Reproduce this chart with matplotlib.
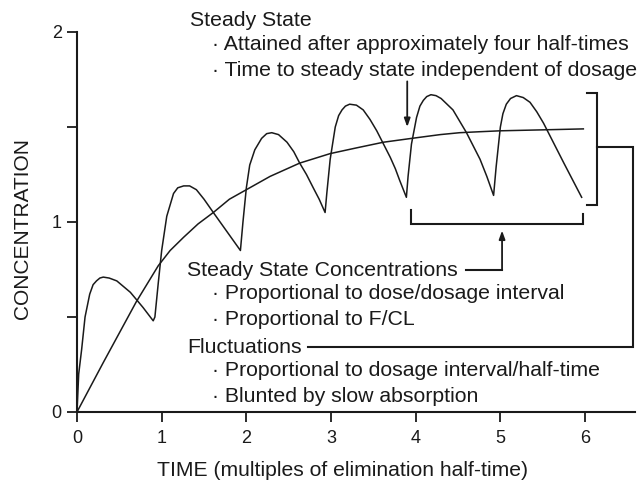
import matplotlib
matplotlib.use("Agg")
import matplotlib.pyplot as plt

plt.rcParams['font.family'] = ['Liberation Sans', 'DejaVu Sans']

# oscillating concentration with repeated dosing
dose_t = [0.00, 0.02, 0.055, 0.095, 0.15, 0.19, 0.23, 0.27, 0.31, 0.38, 0.47,
          0.63, 0.78, 0.90,
          0.92, 0.96, 1.00, 1.06, 1.14, 1.19, 1.26, 1.33, 1.41, 1.50, 1.61,
          1.77, 1.93,
          1.96, 2.00, 2.04, 2.10, 2.18, 2.24, 2.30, 2.38, 2.48, 2.56, 2.63,
          2.71, 2.79, 2.86, 2.93,
          2.95, 2.99, 3.05, 3.09, 3.13, 3.17, 3.22, 3.30, 3.38, 3.46, 3.54,
          3.62, 3.70, 3.76, 3.81, 3.85, 3.89,
          3.91, 3.95, 4.01, 4.05, 4.09, 4.13, 4.18, 4.24, 4.30, 4.37, 4.44,
          4.52, 4.60, 4.68, 4.76, 4.84, 4.92,
          4.95, 5.00, 5.03, 5.07, 5.12, 5.19, 5.27, 5.35, 5.43, 5.51, 5.59,
          5.67, 5.75, 5.82, 5.89, 5.96]
dose_c = [0.00, 0.20, 0.33, 0.50, 0.62, 0.67, 0.69, 0.705, 0.71, 0.705, 0.69,
          0.63, 0.55, 0.48,
          0.50, 0.68, 0.85, 1.03, 1.15, 1.18, 1.19, 1.19, 1.17, 1.12, 1.05,
          0.95, 0.85,
          1.00, 1.18, 1.30, 1.38, 1.44, 1.465, 1.47, 1.46, 1.42, 1.37, 1.31,
          1.25, 1.18, 1.12, 1.05,
          1.15, 1.33, 1.50, 1.56, 1.59, 1.61, 1.62, 1.615, 1.59, 1.54, 1.48,
          1.41, 1.34, 1.28, 1.22, 1.175, 1.13,
          1.24, 1.41, 1.55, 1.61, 1.64, 1.66, 1.67, 1.665, 1.65, 1.62, 1.59,
          1.53, 1.47, 1.40, 1.33, 1.24, 1.14,
          1.29, 1.50, 1.57, 1.62, 1.65, 1.665, 1.655, 1.63, 1.58, 1.52, 1.45,
          1.38, 1.31, 1.25, 1.19, 1.13]

# smooth (continuous infusion) curve
inf_t = [0.00, 0.31, 0.70, 0.96, 1.10, 1.26, 1.43, 1.61, 1.80, 2.00, 2.28,
         2.63, 2.99, 3.30, 3.62, 3.95, 4.29, 4.52, 4.75, 5.00, 5.50, 5.98]
inf_c = [0.00, 0.26, 0.58, 0.77, 0.85, 0.92, 0.99, 1.05, 1.12, 1.17, 1.24,
         1.31, 1.36, 1.39, 1.42, 1.44, 1.46, 1.47, 1.475, 1.48, 1.485, 1.49]

x_ticks = [0, 1, 2, 3, 4, 5, 6]
y_ticks = [0, 0.5, 1, 1.5, 2]
y_tick_labels = ['0', '', '1', '', '2']

fig = plt.figure(figsize=(6.41, 4.84), dpi=100)
ax = fig.add_axes([77 / 641, 72 / 484, 558 / 641, 380 / 484])

ink = '#1a1a1a'
ax.plot(inf_t, inf_c, color=ink, lw=1.1, solid_joinstyle='round')
ax.plot(dose_t, dose_c, color=ink, lw=1.1, solid_joinstyle='round')

ax.set_xlim(0, 6.59)
ax.set_ylim(0, 2)
for s in ['top', 'right']:
    ax.spines[s].set_visible(False)
for s in ['left', 'bottom']:
    ax.spines[s].set_linewidth(1.5)
    ax.spines[s].set_color(ink)
ax.set_xticks(x_ticks)
ax.set_yticks(y_ticks)
ax.set_yticklabels(y_tick_labels)
ax.tick_params(direction='out', length=7, width=1.3, color=ink,
               labelsize=13, labelcolor=ink)
ax.tick_params(axis='x', pad=6)
ax.tick_params(axis='y', pad=4)

ax.set_xlabel('TIME (multiples of elimination half-time)', fontsize=15.2, color=ink)
ax.xaxis.set_label_coords(0.475, -0.153)
ax.xaxis.label.set_va('center')
ax.set_ylabel('CONCENTRATION', fontsize=15, color=ink)
ax.yaxis.set_label_coords(-0.097, 0.482)
ax.yaxis.label.set_va('center')

# annotation text blocks
txt = dict(fontsize=15.3, color=ink, va='center', ha='left', clip_on=False)
ax.text(1.33, 2.058, 'Steady State', **txt)
ax.text(1.59, 1.932, '· Attained after approximately four half-times', **txt)
ax.text(1.59, 1.800, '· Time to steady state independent of dosage', **txt)
ax.text(1.30, 0.747, 'Steady State Concentrations', **txt)
ax.text(1.59, 0.626, '· Proportional to dose/dosage interval', **txt)
ax.text(1.59, 0.489, '· Proportional to F/CL', **txt)
ax.text(1.30, 0.342, 'Fluctuations', **txt)
ax.text(1.59, 0.216, '· Proportional to dosage interval/half-time', **txt)
ax.text(1.59, 0.079, '· Blunted by slow absorption', **txt)

line = dict(color=ink, lw=1.5, clip_on=False, solid_joinstyle='miter')
# bracket on the right (fluctuation range)
ax.plot([6.02, 6.14, 6.14, 6.02], [1.677, 1.677, 1.089, 1.089], **line)
ax.plot([6.14, 6.57, 6.57, 2.73], [1.396, 1.396, 0.342, 0.342], **line)
# bracket under the steady state troughs
ax.plot([3.95, 3.95, 5.98, 5.98], [1.063, 0.99, 0.99, 1.04], **line)
ax.plot([4.60, 5.02], [0.747, 0.747], **line)
arrow = dict(arrowstyle='-|>,head_length=0.5,head_width=0.18', color=ink, lw=1.3,
             shrinkA=0, shrinkB=0)
ax.annotate('', xy=(5.02, 0.955), xytext=(5.02, 0.747), arrowprops=arrow)
ax.annotate('', xy=(3.90, 1.50), xytext=(3.90, 1.74), arrowprops=arrow)

fig.savefig('out.png', dpi=100)
